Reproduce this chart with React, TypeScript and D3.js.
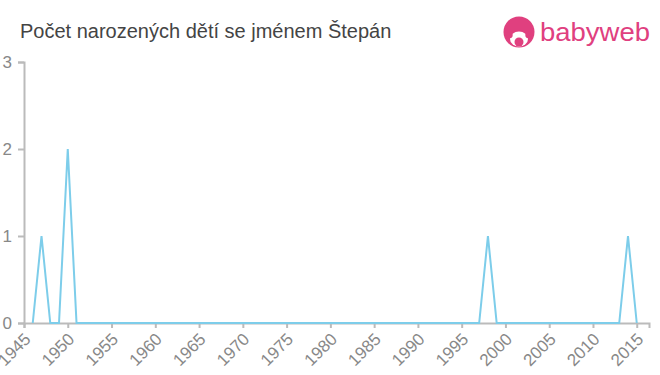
import React, { useEffect, useRef } from "react";
import * as d3 from "d3";

// counts per year
const years: number[] = [
    1946, 1947, 1948, 1949, 1950, 1951, 1952, 1953, 1954, 1955,
    1956, 1957, 1958, 1959, 1960, 1961, 1962, 1963, 1964, 1965,
    1966, 1967, 1968, 1969, 1970, 1971, 1972, 1973, 1974, 1975,
    1976, 1977, 1978, 1979, 1980, 1981, 1982, 1983, 1984, 1985,
    1986, 1987, 1988, 1989, 1990, 1991, 1992, 1993, 1994, 1995,
    1996, 1997, 1998, 1999, 2000, 2001, 2002, 2003, 2004, 2005,
    2006, 2007, 2008, 2009, 2010, 2011, 2012, 2013, 2014, 2015,
];
const counts: number[] = [
    0, 1, 0, 0, 2, 0, 0, 0, 0, 0,
    0, 0, 0, 0, 0, 0, 0, 0, 0, 0,
    0, 0, 0, 0, 0, 0, 0, 0, 0, 0,
    0, 0, 0, 0, 0, 0, 0, 0, 0, 0,
    0, 0, 0, 0, 0, 0, 0, 0, 0, 0,
    0, 0, 1, 0, 0, 0, 0, 0, 0, 0,
    0, 0, 0, 0, 0, 0, 0, 0, 1, 0,
];
const xTicks: number[] = [1945, 1950, 1955, 1960, 1965, 1970, 1975, 1980, 1985, 1990, 1995, 2000, 2005, 2010, 2015];
const yTicks: number[] = [0, 1, 2, 3];

const title = "Počet narozených dětí se jménem Štepán";

const W = 660, H = 375;
const FONT = "Liberation Sans, Arial, sans-serif";

export default function App() {
    const gx = useRef<SVGGElement>(null);
    const gy = useRef<SVGGElement>(null);

    const x = d3.scaleLinear().domain([1945, 2016.4]).range([24, 649]);
    const y = d3.scaleLinear().domain([0, 3]).range([323, 62]);

    const data = years.map((yr, i) => ({ yr, v: counts[i] }));
    const line = d3.line<{ yr: number, v: number }>().x(d => x(d.yr)).y(d => y(d.v));

    useEffect(() => {
        const ax = d3.axisBottom(x).tickValues(xTicks).tickFormat(d => String(d)).tickSize(5).tickPadding(4);
        const sx = d3.select(gx.current!);
        sx.call(ax as any);
        sx.select(".domain").attr("stroke", "#bbb").attr("stroke-width", 2);
        sx.selectAll(".tick line").attr("stroke", "#bbb").attr("stroke-width", 2);
        sx.selectAll(".tick text")
            .attr("fill", "#888")
            .attr("font-size", 17)
            .attr("font-family", FONT)
            .attr("text-anchor", "end")
            .attr("x", 0)
            .attr("y", 0)
            .attr("dy", "0.35em")
            .attr("transform", "translate(3,13) rotate(-45)");

        const ay = d3.axisLeft(y).tickValues(yTicks).tickFormat(d => String(d)).tickSize(6).tickPadding(6);
        const sy = d3.select(gy.current!);
        sy.call(ay as any);
        sy.select(".domain").attr("stroke", "#bbb").attr("stroke-width", 2);
        sy.selectAll(".tick line").attr("stroke", "#bbb").attr("stroke-width", 2);
        sy.selectAll(".tick text")
            .attr("fill", "#888")
            .attr("font-size", 17)
            .attr("font-family", FONT);
    }, []);

    return (
        <svg width={W} height={H} style={{ position: "absolute", left: 0, top: 0 }}>
            <rect width={W} height={H} fill="#fff" />
            <text x={20} y={38} fontSize={20} fill="#444" fontFamily={FONT}>{title}</text>

            {/* logo */}
            <g>
                <circle cx={519} cy={32} r={15.5} fill="#e0407f" />
                <ellipse cx={519} cy={39} rx={9} ry={7.5} fill="#fff" />
                <circle cx={519} cy={42} r={4.5} fill="#e0407f" />
                <circle cx={509.5} cy={35} r={3.2} fill="#e0407f" />
                <circle cx={528.5} cy={35} r={3.2} fill="#e0407f" />
                <text x={540} y={41} fontSize={26} fill="#e0407f" fontFamily={FONT} textLength={110} lengthAdjust="spacingAndGlyphs">babyweb</text>
            </g>

            <g ref={gx} transform="translate(0,323)" />
            <g ref={gy} transform="translate(24,0)" />

            <path d={line(data) ?? ""} fill="none" stroke="#7dcdea" strokeWidth={2} />
        </svg>
    );
}
